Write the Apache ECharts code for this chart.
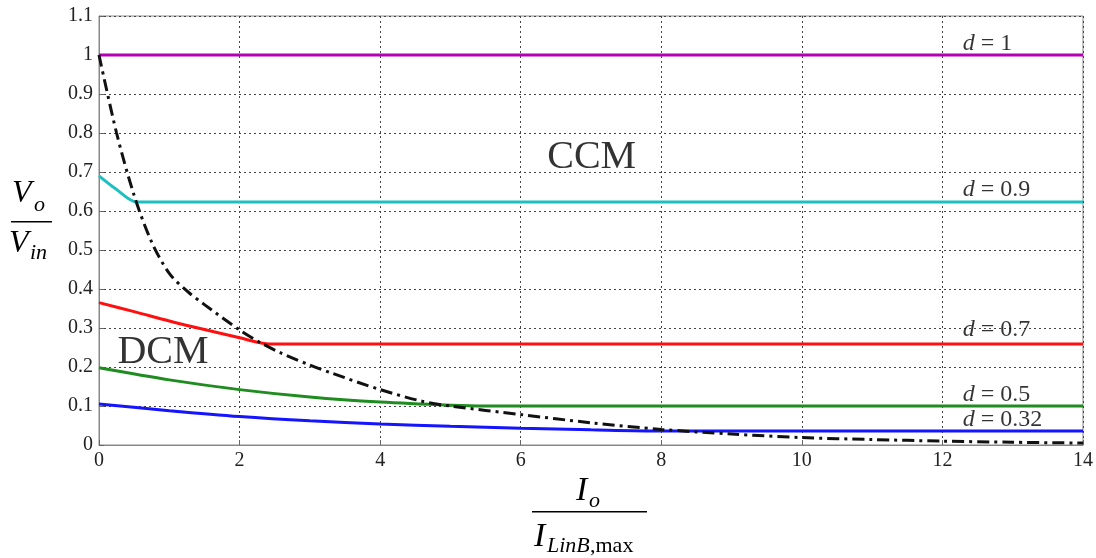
<!DOCTYPE html>
<html><head><meta charset="utf-8">
<script src="https://cdn.jsdelivr.net/npm/echarts@6/dist/echarts.min.js"></script>
<style>html,body{margin:0;padding:0;background:#fff}#c{width:1096px;height:558px}</style>
</head><body><div id="c"></div>
<script>
// ---- data ----
var xTicks = [0, 2, 4, 6, 8, 10, 12, 14];
var yTicks = ['0','0.1','0.2','0.3','0.4','0.5','0.6','0.7','0.8','0.9','1','1.1'];

var d1X = [0, 14];
var d1Y = [1.0, 1.0];

var d09X = [0, 0.25, 0.54, 14];
var d09Y = [0.69, 0.655, 0.623, 0.623];

var d07X = [0, 0.5, 1, 1.5, 2, 2.43, 14];
var d07Y = [0.365, 0.342, 0.318, 0.296, 0.275, 0.259, 0.259];

var d05X = [0, 1, 2, 3, 4, 5, 5.5, 14];
var d05Y = [0.198, 0.167, 0.142, 0.123, 0.110, 0.102, 0.100, 0.100];

var d032X = [0, 1, 2, 3, 4, 5, 6, 7, 8, 14];
var d032Y = [0.105, 0.088, 0.073, 0.062, 0.054, 0.048, 0.043, 0.039, 0.036, 0.036];

var bX = [0, 0.25, 0.5, 0.75, 1, 1.25, 1.5, 2, 2.3, 2.6, 3, 3.3, 4, 4.6, 5, 6, 7, 8, 9, 10, 11, 12, 13, 14];
var bY = [1.0, 0.8, 0.64, 0.52, 0.44, 0.395, 0.36, 0.295, 0.262, 0.235, 0.205, 0.185, 0.142, 0.112, 0.1, 0.078, 0.057, 0.04, 0.028, 0.019, 0.014, 0.01, 0.007, 0.005];

var curveLabels = ['1', '0.9', '0.7', '0.5', '0.32'];
var labelX = [12.29, 12.29, 12.29, 12.29, 12.29];
var labelY = [1.03, 0.654, 0.295, 0.128, 0.064];
var regionLabels = ['CCM', 'DCM'];
var regionX = [7.01, 0.91];
var regionY = [0.736, 0.238];

function pairs(xs, ys){ return xs.map(function(x,i){ return [x, ys[i]]; }); }

var serif = '"Liberation Serif", "DejaVu Serif", serif';
var chart = echarts.init(document.getElementById('c'));

function line(xs, ys, color, type){
  return {type:'line', data:pairs(xs, ys), showSymbol:false, symbol:'none', smooth:0.3,
    lineStyle:{color:color, width:3, type:type||'solid'}, z:3, silent:true};
}

var labelData = curveLabels.map(function(t,i){
  return {value:[labelX[i], labelY[i]], label:{formatter:'{i|d}{n| = ' + t + '}'}};
});
var regionData = regionLabels.map(function(t,i){
  return {value:[regionX[i], regionY[i]], label:{formatter:t}};
});

chart.setOption({
  animation:false,
  backgroundColor:'#fff',
  grid:{left:99, right:13, top:16, bottom:113, show:true, borderColor:'#888', borderWidth:1},
  xAxis:{type:'value', min:0, max:14, interval:2,
    axisLine:{show:true, lineStyle:{color:'#888'}},
    axisTick:{show:true, inside:true, length:5, lineStyle:{color:'#666'}},
    axisLabel:{color:'#222', fontFamily:serif, fontSize:20, margin:6,
      formatter:function(v){ return xTicks.indexOf(v) >= 0 ? String(v) : ''; }},
    splitLine:{show:true, lineStyle:{color:'#444', type:[2,3], width:1}}},
  yAxis:{type:'value', min:0, max:1.1, interval:0.1,
    axisLine:{show:true, lineStyle:{color:'#888'}},
    axisTick:{show:true, inside:true, length:5, lineStyle:{color:'#666'}},
    axisLabel:{color:'#222', fontFamily:serif, fontSize:20, margin:6,
      formatter:function(v){ return yTicks[Math.round(v*10)]; }},
    splitLine:{show:true, lineStyle:{color:'#444', type:[2,3], width:1}}},
  series:[
    line(d1X, d1Y, '#b400b4'),
    line(d09X, d09Y, '#1cc0c0'),
    line(d07X, d07Y, '#ff1010'),
    line(d05X, d05Y, '#1e8c1e'),
    line(d032X, d032Y, '#1414ff'),
    {type:'line', data:pairs(bX, bY), showSymbol:false, symbol:'none', smooth:0.3, z:4,
      lineStyle:{color:'#111', width:3, type:[12,5,3,5]}},
    {type:'scatter', symbolSize:0, data:labelData, z:6, silent:true,
      label:{show:true, position:'right', distance:0, color:'#000',
        rich:{i:{fontFamily:serif, fontStyle:'italic', fontSize:24, color:'#000'},
              n:{fontFamily:serif, fontSize:24, color:'#000'}}}},
    {type:'scatter', symbolSize:0, data:regionData, z:6, silent:true,
      label:{show:true, position:'inside', color:'#000', fontFamily:serif, fontSize:40}}
  ],
  graphic:[
    {type:'text', left:12, top:178, style:{text:'V', font:'italic 32px ' + serif, fill:'#000'}},
    {type:'text', left:34, top:194, style:{text:'o', font:'italic 22px ' + serif, fill:'#000'}},
    {type:'rect', left:11, top:221, shape:{width:41, height:1.5}, style:{fill:'#000'}},
    {type:'text', left:9, top:228, style:{text:'V', font:'italic 32px ' + serif, fill:'#000'}},
    {type:'text', left:30, top:242, style:{text:'in', font:'italic 22px ' + serif, fill:'#000'}},

    {type:'text', left:576, top:474, style:{text:'I', font:'italic 34px ' + serif, fill:'#000'}},
    {type:'text', left:589, top:490, style:{text:'o', font:'italic 22px ' + serif, fill:'#000'}},
    {type:'rect', left:532, top:511, shape:{width:115, height:1.5}, style:{fill:'#000'}},
    {type:'text', left:534, top:520, style:{text:'I', font:'italic 34px ' + serif, fill:'#000'}},
    {type:'text', left:547, top:535, style:{text:'LinB', font:'italic 22px ' + serif, fill:'#000'}},
    {type:'text', left:590, top:535, style:{text:',max', font:'22px ' + serif, fill:'#000'}}
  ]
});
</script></body></html>
